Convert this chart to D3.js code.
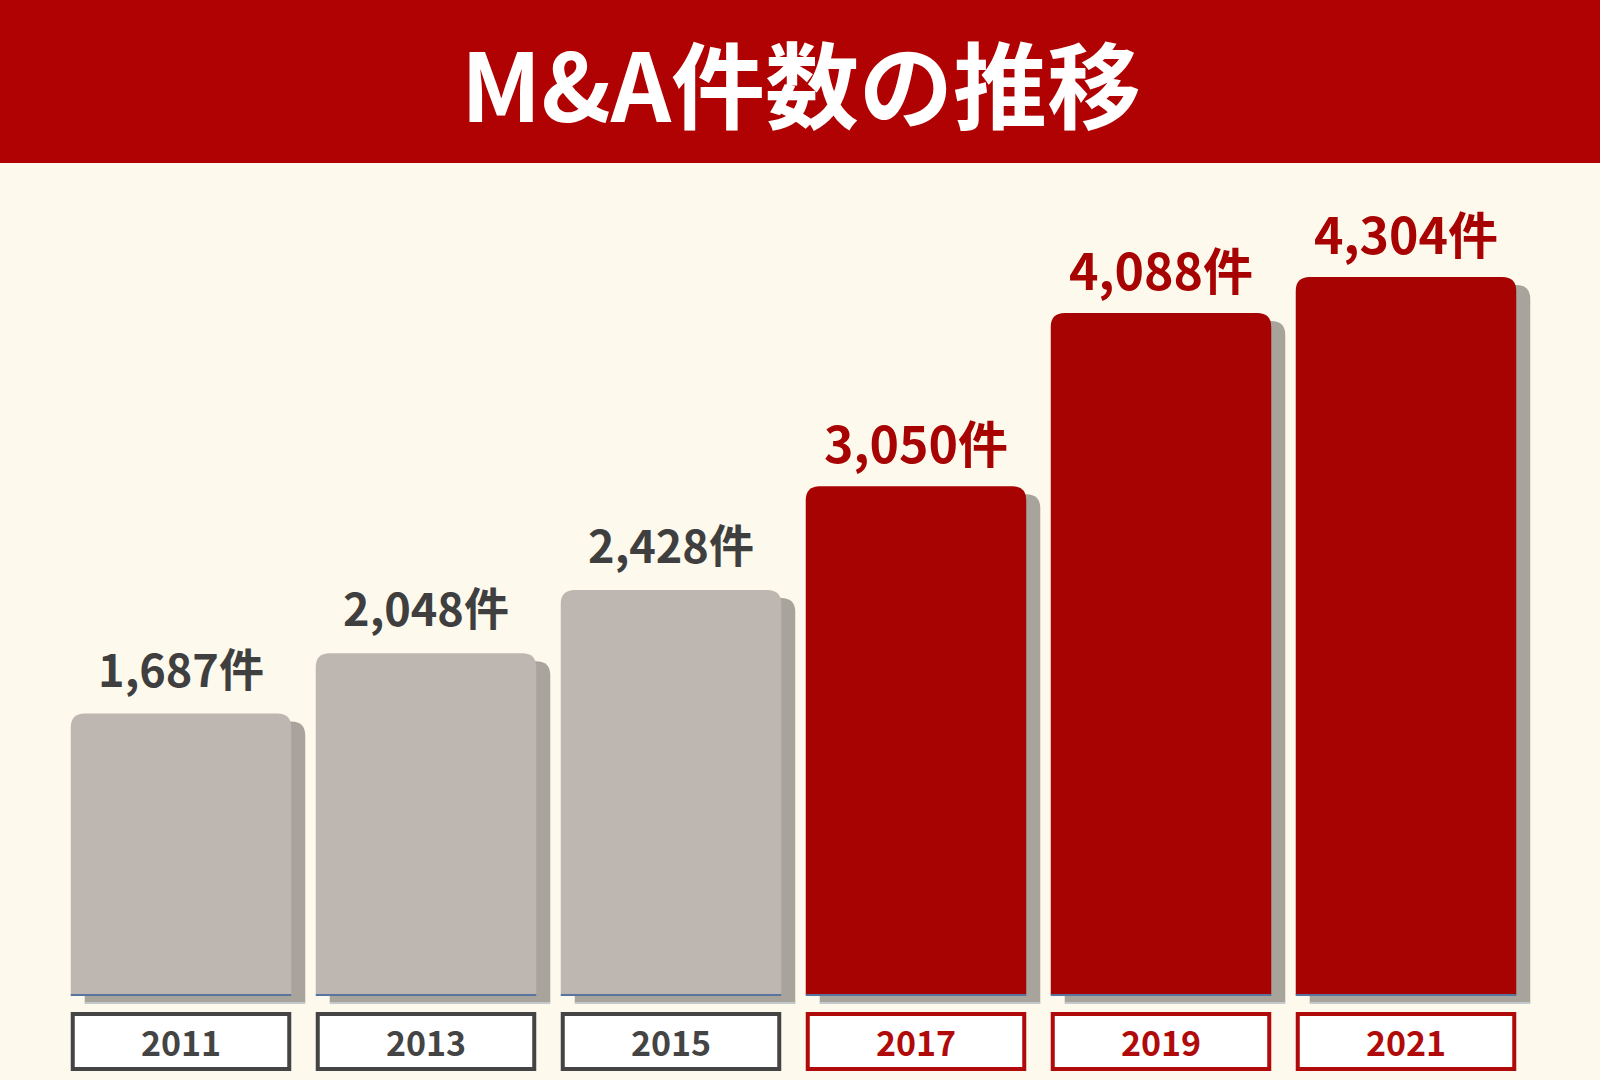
<!DOCTYPE html>
<html><head><meta charset="utf-8">
<script src="https://cdn.jsdelivr.net/npm/d3@7"></script>
<style>html,body{margin:0;padding:0;background:#fdf9ed;}svg{display:block;}</style>
</head><body>
<script>
const years = ["2011","2013","2015","2017","2019","2021"];
const values = [1687, 2048, 2428, 3050, 4088, 4304];
const highlighted = [false, false, false, true, true, true];
const unit = "件";
const title = "M&A件数の推移";

const W = 1600, H = 1080;
const font = "'Noto Sans CJK JP','Noto Sans',sans-serif";
const svg = d3.select("body").append("svg").attr("width", W).attr("height", H);

svg.append("rect").attr("width", W).attr("height", H).attr("fill", "#fdf9ed");
svg.append("rect").attr("width", W).attr("height", 163).attr("fill", "#b00202");
svg.append("text").attr("x", 801).attr("y", 122).attr("text-anchor", "middle")
  .attr("font-family", font).attr("font-weight", 700).attr("font-size", 94)
  .attr("fill", "#ffffff").text(title);

const x = d3.scaleBand().domain(years).range([58.5, 1528.5]).paddingInner(0.1).paddingOuter(0.05);
const y = d3.scaleLinear().domain([0, 4304]).range([995, 277]);

const isHi = d => highlighted[years.indexOf(d)];
const colBar = d => isHi(d) ? "#a80303" : "#bdb6b1";
const colTxt = d => isHi(d) ? "#a80303" : "#3f3f3f";
const colBox = d => isHi(d) ? "#b00a0a" : "#444444";

const r = 14;
function topRounded(x0, y0, w, h, r) {
  return `M${x0},${y0 + h} L${x0},${y0 + r} Q${x0},${y0} ${x0 + r},${y0} L${x0 + w - r},${y0} Q${x0 + w},${y0} ${x0 + w},${y0 + r} L${x0 + w},${y0 + h} Z`;
}

const data = years.map((yr, i) => ({ yr, v: values[i] }));
const g = svg.append("g");
// shadows
g.selectAll(".shadow").data(data).enter().append("path")
  .attr("d", d => topRounded(x(d.yr) + 14, y(d.v) + 8, x.bandwidth(), y(0) - y(d.v), r))
  .attr("fill", "#a8a49c");
g.selectAll(".shadowline").data(data).enter().append("rect")
  .attr("x", d => x(d.yr) + 14).attr("y", y(0) + 7).attr("width", x.bandwidth()).attr("height", 2)
  .attr("fill", "#c3c9cc");
// bars
g.selectAll(".bar").data(data).enter().append("path")
  .attr("d", d => topRounded(x(d.yr), y(d.v), x.bandwidth(), y(0) - y(d.v), r))
  .attr("fill", d => colBar(d.yr));
g.selectAll(".baseline").data(data).enter().append("rect")
  .attr("x", d => x(d.yr)).attr("y", y(0) - 1).attr("width", x.bandwidth()).attr("height", 2)
  .attr("fill", "#5a74a0");
// value labels
g.selectAll(".val").data(data).enter().append("text")
  .attr("x", d => x(d.yr) + x.bandwidth() / 2).attr("y", d => y(d.v) - (isHi(d.yr) ? 23 : 27))
  .attr("text-anchor", "middle").attr("font-family", font).attr("font-weight", 700)
  .attr("font-size", d => isHi(d.yr) ? 50 : 45).attr("fill", d => colTxt(d.yr))
  .text(d => d3.format(",")(d.v) + unit);
// year boxes
g.selectAll(".box").data(data).enter().append("rect")
  .attr("x", d => x(d.yr) + 2).attr("y", 1014).attr("width", x.bandwidth() - 4).attr("height", 55)
  .attr("fill", "#ffffff").attr("stroke", d => colBox(d.yr)).attr("stroke-width", 4);
g.selectAll(".yr").data(data).enter().append("text")
  .attr("x", d => x(d.yr) + x.bandwidth() / 2).attr("y", 1056)
  .attr("text-anchor", "middle").attr("font-family", font).attr("font-weight", 700)
  .attr("font-size", 34).attr("fill", d => colBox(d.yr))
  .text(d => d.yr);
</script>
</body></html>
